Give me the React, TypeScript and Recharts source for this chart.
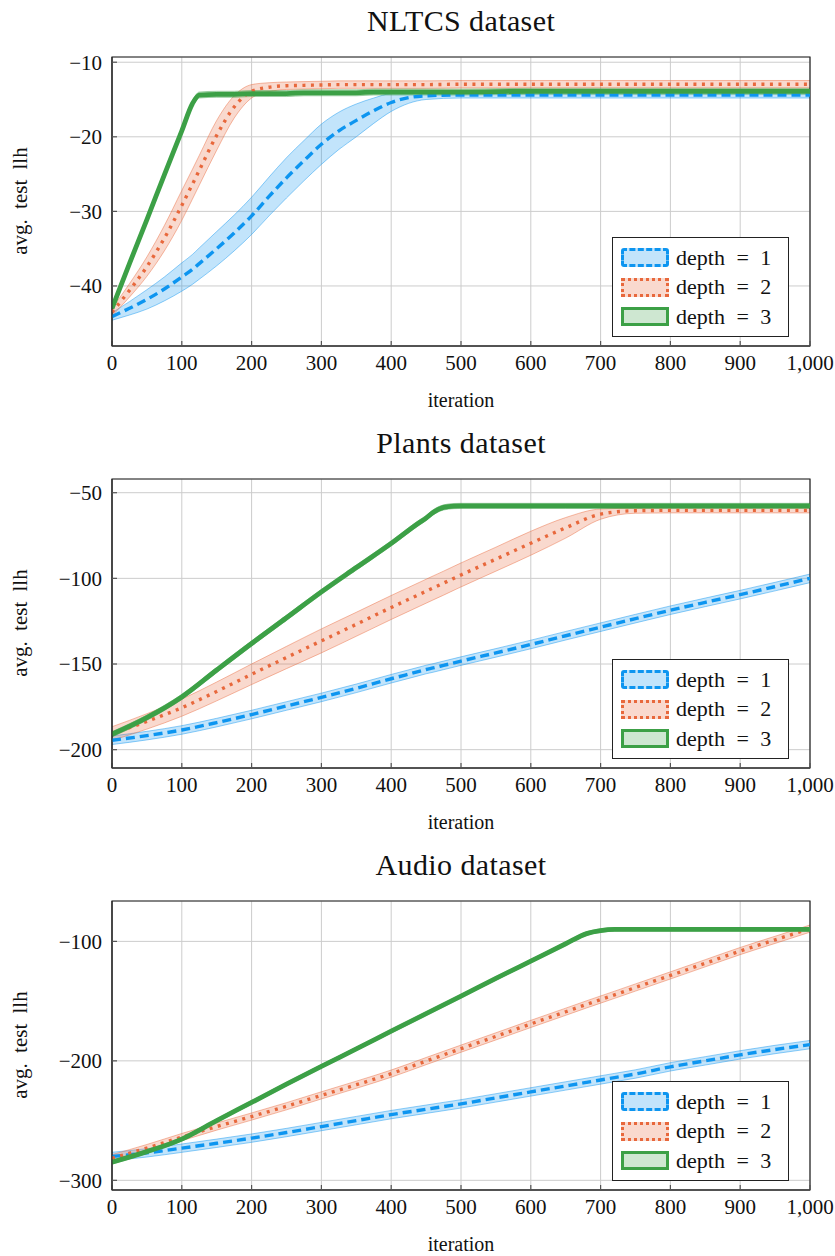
import React from "react";
import {
  ComposedChart, Area, Line, XAxis, YAxis, CartesianGrid, Legend, ReferenceArea,
} from "recharts";

const BLUE = "#0d95f0";
const ORANGE = "#e8683c";
const GREEN = "#3ca046";
const FONT = '"Liberation Serif", "Times New Roman", serif';

const X_TICKS = [0, 100, 200, 300, 400, 500, 600, 700, 800, 900, 1000];

// NLTCS
const nltcsIter = [0, 25, 50, 75, 100, 115, 125, 150, 175, 200, 225, 250, 275, 300, 325, 350, 375, 400, 450, 500, 600, 700, 800, 900, 1000];
const nltcsDepth1 = [-44.1, -43.0, -41.8, -40.4, -38.8, -37.8, -37.0, -35.0, -32.9, -30.6, -28.0, -25.5, -23.2, -21.0, -19.2, -17.8, -16.5, -15.4, -14.5, -14.4, -14.4, -14.4, -14.4, -14.4, -14.4];
const nltcsDepth1Std = [0.5, 0.9, 1.3, 1.6, 1.9, 2.0, 2.1, 2.3, 2.4, 2.5, 2.6, 2.7, 2.7, 2.7, 2.5, 2.2, 1.7, 1.2, 0.5, 0.4, 0.4, 0.4, 0.4, 0.4, 0.4];
const nltcsDepth2 = [-43.5, -40.6, -37.4, -33.6, -29.2, -26.4, -24.5, -19.8, -16.0, -13.9, -13.35, -13.15, -13.1, -13.05, -13.0, -13.0, -13.0, -13.0, -13.0, -12.95, -12.95, -12.95, -12.95, -12.95, -12.95];
const nltcsDepth2Std = [0.5, 0.9, 1.3, 1.7, 2.0, 2.0, 2.0, 2.0, 1.5, 0.9, 0.6, 0.5, 0.5, 0.5, 0.5, 0.5, 0.5, 0.5, 0.5, 0.5, 0.5, 0.5, 0.5, 0.5, 0.5];
const nltcsDepth3 = [-43.0, -37.0, -31.1, -25.1, -19.2, -15.6, -14.4, -14.3, -14.3, -14.2, -14.2, -14.2, -14.1, -14.1, -14.1, -14.1, -14.0, -14.0, -14.0, -14.0, -13.9, -13.9, -13.9, -13.9, -13.9];
const nltcsDepth3Std = [0.4, 0.4, 0.4, 0.4, 0.4, 0.4, 0.4, 0.4, 0.4, 0.4, 0.4, 0.4, 0.4, 0.4, 0.4, 0.4, 0.4, 0.4, 0.4, 0.4, 0.4, 0.4, 0.4, 0.4, 0.4];
const nltcsTicks = [-40, -30, -20, -10];

// Plants
const plantsIter = [0, 50, 100, 150, 200, 250, 300, 350, 400, 440, 450, 460, 475, 490, 500, 550, 600, 650, 700, 750, 800, 850, 900, 950, 1000];
const plantsDepth1 = [-194.5, -191.8, -188.5, -184.2, -179.5, -174.5, -169.5, -164.2, -158.6, -154.3, -153.2, -152.3, -150.8, -149.3, -148.3, -143.5, -138.6, -133.5, -128.5, -123.5, -118.6, -114.0, -109.5, -104.8, -100.0];
const plantsDepth1Std = [2.5, 2.5, 2.5, 2.5, 2.5, 2.5, 2.5, 2.5, 2.5, 2.5, 2.5, 2.5, 2.5, 2.5, 2.5, 2.5, 2.5, 2.5, 2.5, 2.5, 2.5, 2.5, 2.5, 2.5, 2.5];
const plantsDepth2 = [-190.6, -183.5, -175.5, -166.0, -156.0, -146.2, -136.5, -126.8, -117.0, -109.4, -107.5, -105.6, -102.8, -99.9, -98.0, -88.8, -79.5, -70.5, -62.5, -60.5, -60.3, -60.3, -60.3, -60.3, -60.3];
const plantsDepth2Std = [4, 4.5, 5, 5.5, 6, 6.5, 7, 7, 7, 7, 7, 7, 7, 7, 7, 7, 7, 6, 3, 1.5, 1.5, 1.5, 1.5, 1.5, 1.5];
const plantsDepth3 = [-191.0, -181.3, -169.2, -153.5, -138.0, -123.0, -107.9, -93.7, -79.6, -67.5, -64.8, -61.5, -58.6, -57.8, -57.7, -57.7, -57.7, -57.7, -57.7, -57.7, -57.7, -57.7, -57.7, -57.7, -57.7];
const plantsDepth3Std = [1.5, 1.5, 1.5, 1.5, 1.5, 1.5, 1.5, 1.5, 1.5, 1.5, 1.5, 1.5, 1.5, 1.5, 1.5, 1.5, 1.5, 1.5, 1.5, 1.5, 1.5, 1.5, 1.5, 1.5, 1.5];
const plantsTicks = [-200, -150, -100, -50];

// Audio
const audioIter = [0, 50, 100, 150, 200, 250, 300, 350, 400, 450, 500, 550, 600, 650, 680, 700, 720, 750, 800, 850, 900, 950, 1000];
const audioDepth1 = [-280.0, -277.0, -273.1, -269.0, -264.7, -260.0, -255.0, -250.0, -245.0, -240.5, -236.0, -231.0, -226.0, -221.0, -218.0, -216.0, -214.0, -211.0, -205.0, -200.0, -195.0, -190.5, -186.4];
const audioDepth1Std = [3.5, 3.5, 3.5, 3.5, 3.5, 3.5, 3.5, 3.5, 3.5, 3.5, 3.5, 3.5, 3.5, 3.5, 3.5, 3.5, 3.5, 3.5, 3.5, 3.5, 3.5, 3.5, 3.5];
const audioDepth2 = [-281.5, -273.0, -263.8, -255.0, -246.6, -238.0, -228.9, -220.0, -210.7, -200.2, -189.8, -179.5, -169.1, -158.9, -152.7, -148.7, -144.7, -138.6, -128.5, -118.3, -108.1, -98.7, -89.3];
const audioDepth2Std = [3, 3, 3, 3, 3, 3, 3, 3, 3, 3, 3, 3, 3, 3, 3, 3, 3, 3, 3, 3, 3, 3, 3];
const audioDepth3 = [-284.8, -276.0, -265.5, -250.0, -234.8, -219.5, -204.6, -190.0, -175.2, -160.5, -145.9, -131.0, -116.5, -102.0, -93.5, -91.0, -90.0, -89.9, -89.9, -89.9, -89.9, -89.9, -89.9];
const audioDepth3Std = [1.5, 1.5, 1.5, 1.5, 1.5, 1.5, 1.5, 1.5, 1.5, 1.5, 1.5, 1.5, 1.5, 1.5, 1.5, 1.5, 1.5, 1.5, 1.5, 1.5, 1.5, 1.5, 1.5];
const audioTicks = [-300, -200, -100];

const SERIES = [
  { id: "d1", name: "depth = 1", color: BLUE, dash: "9 5", width: 3.4 },
  { id: "d2", name: "depth = 2", color: ORANGE, dash: "3 5.5", width: 3.4 },
  { id: "d3", name: "depth = 3", color: GREEN, dash: undefined, width: 4.8 },
];

function buildRows(iter: number[], means: number[][], stds: number[][]) {
  return iter.map((x, i) => {
    const row: any = { x };
    SERIES.forEach((s, k) => {
      row[s.id] = means[k][i];
      row[s.id + "band"] = [means[k][i] - stds[k][i], means[k][i] + stds[k][i]];
    });
    return row;
  });
}

const fmtY = (v: number) => (v < 0 ? "\u2212" + Math.abs(v) : String(v));
const fmtX = (v: number) => v.toLocaleString("en-US");
const noLabel = () => "";

function LegendBox() {
  return (
    <div style={{ width: 177, height: 100, border: "1px solid #222", background: "#fff", boxSizing: "border-box", padding: "5px 0 0 8px", fontFamily: FONT }}>
      {SERIES.map((s) => (
        <div key={s.id} style={{ display: "flex", alignItems: "center", height: 29.5 }}>
          <div style={{
            width: 42, height: 13, boxSizing: "content-box",
            border: `3px ${s.id === "d1" ? "dashed" : s.id === "d2" ? "dotted" : "solid"} ${s.color}`,
            background: s.color + "40", borderRadius: s.id === "d1" ? 3 : 0,
          }} />
          <span style={{ marginLeft: 7, fontSize: 22, color: "#111", wordSpacing: 6, fontFamily: FONT }}>{s.name}</span>
        </div>
      ))}
    </div>
  );
}

function Panel({ top, title, data, domain, ticks }: { top: number; title: string; data: any[]; domain: [number, number]; ticks: number[] }) {
  const tickStyle = { fill: "#111", fontSize: 21, fontFamily: FONT, style: { fontFamily: FONT } };
  const tickMark = { stroke: "#555", strokeWidth: 1.2 };
  return (
    <div style={{ position: "absolute", left: 0, top, width: 835, height: 422 }}>
      <div style={{ position: "absolute", left: 112, top: 4, width: 698, textAlign: "center", fontSize: 30, lineHeight: "34px", letterSpacing: 0.4, color: "#111" }}>{title}</div>
      <div style={{ position: "absolute", left: -80, top: 189, width: 200, height: 24, textAlign: "center", fontSize: 21, lineHeight: "24px", wordSpacing: 5, transform: "rotate(-90deg)", color: "#111" }}>avg. test llh</div>
      <div style={{ position: "absolute", left: 112, top: 388, width: 698, textAlign: "center", fontSize: 20, lineHeight: "24px", color: "#111" }}>iteration</div>
      <div style={{ position: "absolute", left: 0, top: 0 }}>
        <ComposedChart width={835} height={422} data={data} margin={{ top: 57, right: 25, left: 0, bottom: 0 }} style={{ fontFamily: FONT }}>
          <CartesianGrid stroke="#cccccc" strokeWidth={1} />
          <XAxis dataKey="x" type="number" domain={[0, 1000]} ticks={X_TICKS} interval={0} height={76}
            tickFormatter={fmtX} tickLine={tickMark} tickSize={-5} tickMargin={14} axisLine={{ stroke: "#222" }}
            tick={tickStyle} allowDataOverflow />
          <XAxis xAxisId="top" orientation="top" dataKey="x" type="number" domain={[0, 1000]} ticks={X_TICKS} interval={0} height={0}
            tickFormatter={noLabel} tickLine={tickMark} tickSize={-5} axisLine={false} allowDataOverflow />
          <YAxis type="number" domain={domain} ticks={ticks} interval={0} width={112}
            tickFormatter={fmtY} tickLine={tickMark} tickSize={-5} tickMargin={15} axisLine={{ stroke: "#222" }}
            tick={tickStyle} allowDataOverflow />
          <YAxis yAxisId="right" orientation="right" type="number" domain={domain} ticks={ticks} interval={0} width={0}
            tickFormatter={noLabel} tickLine={tickMark} tickSize={-5} axisLine={false} allowDataOverflow />
          {SERIES.map((s) => [
            <Area key={s.id + "a"} dataKey={s.id + "band"} type="monotone" fill={s.color} fillOpacity={0.25}
              stroke={s.color} strokeOpacity={0.45} strokeWidth={1} isAnimationActive={false} legendType="none" />,
            <Line key={s.id + "l"} dataKey={s.id} name={s.name} type="monotone" stroke={s.color} strokeWidth={s.width}
              strokeDasharray={s.dash} dot={false} isAnimationActive={false} />,
          ])}
          <ReferenceArea x1={0} x2={1000} y1={domain[0]} y2={domain[1]} fill="none" stroke="#222" strokeWidth={1.2} />
          <Legend layout="vertical" align="center" verticalAlign="middle" content={() => <LegendBox />}
            wrapperStyle={{ left: 612, top: 237, width: 177, height: 100 }} />
        </ComposedChart>
      </div>
    </div>
  );
}

export default function App() {
  const nltcs = buildRows(nltcsIter, [nltcsDepth1, nltcsDepth2, nltcsDepth3], [nltcsDepth1Std, nltcsDepth2Std, nltcsDepth3Std]);
  const plants = buildRows(plantsIter, [plantsDepth1, plantsDepth2, plantsDepth3], [plantsDepth1Std, plantsDepth2Std, plantsDepth3Std]);
  const audio = buildRows(audioIter, [audioDepth1, audioDepth2, audioDepth3], [audioDepth1Std, audioDepth2Std, audioDepth3Std]);
  return (
    <div style={{ position: "absolute", left: 0, top: 0, width: 835, height: 1256, background: "#fff", fontFamily: FONT }}>
      <Panel top={0} title="NLTCS dataset" data={nltcs} domain={[-48.05, -9.3]} ticks={nltcsTicks} />
      <Panel top={422} title="Plants dataset" data={plants} domain={[-210.7, -42]} ticks={plantsTicks} />
      <Panel top={844} title="Audio dataset" data={audio} domain={[-308.1, -66.2]} ticks={audioTicks} />
    </div>
  );
}
